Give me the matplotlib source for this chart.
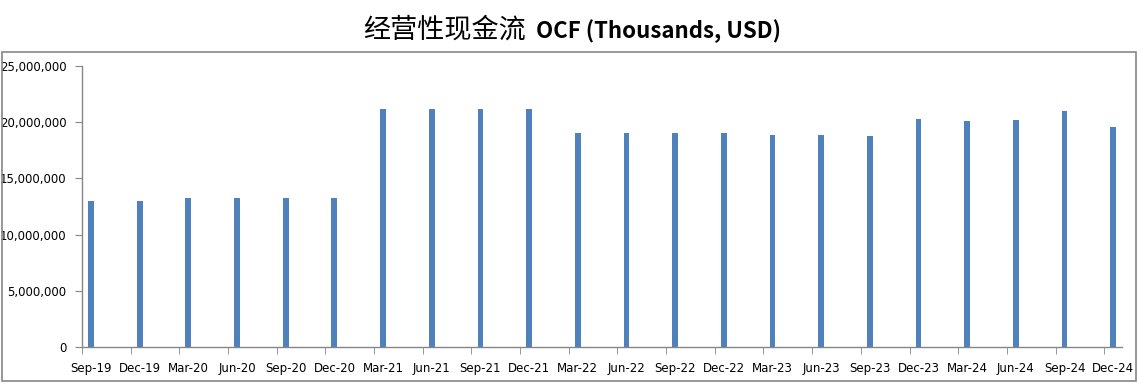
import matplotlib
matplotlib.use("Agg")
import matplotlib.pyplot as plt
from matplotlib.patches import Rectangle
from matplotlib.ticker import FuncFormatter, FixedLocator
import numpy as np

categories = ["Sep-19", "Dec-19", "Mar-20", "Jun-20", "Sep-20", "Dec-20",
              "Mar-21", "Jun-21", "Sep-21", "Dec-21", "Mar-22", "Jun-22",
              "Sep-22", "Dec-22", "Mar-23", "Jun-23", "Sep-23", "Dec-23",
              "Mar-24", "Jun-24", "Sep-24", "Dec-24"]
ocf = [13000000, 13000000, 13270000, 13270000, 13270000, 13270000,
       21170000, 21170000, 21170000, 21170000, 19050000, 19050000,
       19050000, 19050000, 18870000, 18870000, 18780000, 20280000,
       20110000, 20200000, 21000000, 19580000]
yticks = [0, 5000000, 10000000, 15000000, 20000000, 25000000]
title_cn = "经营性现金流"
title_en = "OCF (Thousands, USD)"

W, H = 1141, 387
fig = plt.figure(figsize=(W / 100, H / 100), dpi=100)
fig.patch.set_facecolor("white")

# outer chart border
fig.add_artist(Rectangle((2 / W, (H - 381) / H), (1136 - 2) / W, (381 - 52) / H,
                         transform=fig.transFigure, fill=False,
                         edgecolor="#868686", linewidth=1.2))

ax = fig.add_axes([82 / W, (H - 347) / H, (1122 - 82) / W, (347 - 66) / H])
x = np.arange(len(categories))
ax.bar(x, ocf, width=0.12, color="#4f81bd", zorder=2)

ax.set_xlim(-0.185, 21.18)
ax.set_ylim(0, 25000000)
ax.set_yticks(yticks)
ax.yaxis.set_major_formatter(FuncFormatter(lambda v, p: f"{int(v):,}"))

ax.set_xticks(x)
ax.set_xticklabels(categories)
ax.tick_params(axis="x", which="major", length=0, pad=11)
ax.xaxis.set_minor_locator(FixedLocator(x - 0.185))
ax.tick_params(axis="x", which="minor", length=5, color="#868686", direction="out")
ax.tick_params(axis="y", length=5, color="#868686", direction="out", pad=6)
for lab in ax.get_xticklabels() + ax.get_yticklabels():
    lab.set_fontsize(8.5)
    lab.set_color("#000000")

for s in ["top", "right"]:
    ax.spines[s].set_visible(False)
for s in ["left", "bottom"]:
    ax.spines[s].set_color("#868686")
    ax.spines[s].set_linewidth(1.0)

fig.text(526 / W, (H - 30) / H, title_cn, ha="right", va="center",
         fontsize=19.5, fontweight="normal",
         family=["Noto Sans CJK SC", "DejaVu Sans"])
fig.text(536 / W, (H - 31) / H, title_en, ha="left", va="center",
         fontsize=16, fontweight="bold",
         family=["Noto Sans CJK SC", "DejaVu Sans"])

fig.savefig("out.png", dpi=100)
